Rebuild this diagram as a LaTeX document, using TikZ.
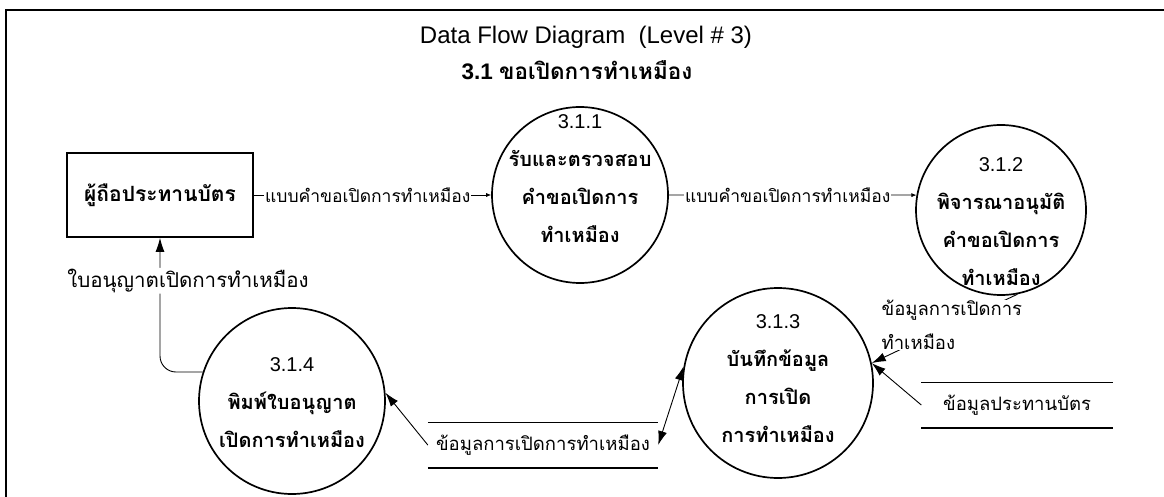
\documentclass[tikz,border=0pt]{standalone}
\usepackage{fontspec}
\setmainfont{Liberation Sans}
\newfontfamily\thaifont[Script=Thai]{Loma}
\usetikzlibrary{arrows.meta,positioning}
\tikzset{
  entity/.style={draw,line width=1.8pt,minimum width=186pt,minimum height=84pt,
    font=\thaifont\bfseries\fontsize{21}{25}\selectfont},
  process/.style={circle,draw,line width=1.7pt,inner sep=0pt,minimum size=#1},
  proctext/.style={align=center,inner sep=0pt,font=\thaifont\bfseries\fontsize{20}{38}\selectfont},
  flowtext/.style={fill=white,inner sep=1pt,font=\thaifont\fontsize{17.5}{34}\selectfont},
  smallflow/.style={-{Latex[length=5pt,width=4pt]},line width=0.7pt},
  bigflow/.style={-{Latex[length=14pt,width=9pt]},line width=0.9pt},
  store/.style={minimum width=#1,minimum height=45pt,inner sep=0pt,
    font=\thaifont\fontsize{18.5}{22}\selectfont},
  storeline/.style={line width=1.6pt}
}

\begin{document}
\begin{tikzpicture}[x=1pt,y=-1pt]
      \useasboundingbox (0,0) rectangle (1164,497);
      \draw[line width=2pt] (6,497) -- (6,10) -- (1164,10);

      \node[font=\fontsize{24}{28}\selectfont] (title) at (586,37) {Data Flow Diagram\ \ (Level \# 3)};
      \node[font=\bfseries\fontsize{22.5}{28}\selectfont] (subtitle) at (577,70) {3.1 {\thaifont\bfseries ขอเปิดการทำเหมือง}};

      \node[entity] (holder) at (160,195) {ผู้ถือประทานบัตร};

      \node[process=176pt] (p1) at (580,195) {};
      \node[process=170pt] (p2) at (1001,210) {};
      \node[process=190pt] (p3) at (778,383) {};
      \node[process=186pt] (p4) at (292,401) {};

      \node[proctext] (p1t) at (580,179) {{\normalfont 3.1.1}\\รับและตรวจสอบ\\คำขอเปิดการ\\ทำเหมือง};
      \node[proctext] (p2t) at (1001,222) {{\normalfont 3.1.2}\\พิจารณาอนุมัติ\\คำขอเปิดการ\\ทำเหมือง};
      \node[proctext] (p3t) at (778,379) {{\normalfont 3.1.3}\\บันทึกข้อมูล\\การเปิด\\การทำเหมือง};
      \node[proctext] (p4t) at (292,403) {{\normalfont 3.1.4}\\พิมพ์ใบอนุญาต\\เปิดการทำเหมือง};

      \node[store=230pt] (s1) at (543,445) {ข้อมูลการเปิดการทำเหมือง};
      \node[store=191pt] (s2) at (1017,405) {ข้อมูลประทานบัตร};
      \draw[storeline] (s1.north west) -- (s1.north east) (s1.south west) -- (s1.south east);
      \draw[storeline] (s2.north west) -- (s2.north east) (s2.south west) -- (s2.south east);

      % flows
      \draw[smallflow] (holder.east) -- (p1.west) node[flowtext,pos=0.48] {แบบคำขอเปิดการทำเหมือง};
      \draw[smallflow] (p1.east) -- (p2.170) node[flowtext,pos=0.48] {แบบคำขอเปิดการทำเหมือง};
      \draw[bigflow] (p2.-79) -- (p3.12) node[flowtext,pos=0.45,align=left,inner sep=0pt,font=\thaifont\fontsize{18.5}{34}\selectfont] {ข้อมูลการเปิดการ\\ทำเหมือง};
      \draw[bigflow] (s2.west) -- (p3.12);
      \draw[bigflow,{Latex[length=14pt,width=9pt]}-{Latex[length=14pt,width=9pt]}] (s1.east) -- (p3.170);
      \draw[bigflow] (s1.west) -- (p4.5);
      \draw[bigflow,rounded corners=16pt] (p4.162) -| (holder.south)
        node[flowtext,pos=0.84,xshift=28pt,font=\thaifont\fontsize{20.5}{34}\selectfont] {ใบอนุญาตเปิดการทำเหมือง};
    \end{tikzpicture}
\end{document}
